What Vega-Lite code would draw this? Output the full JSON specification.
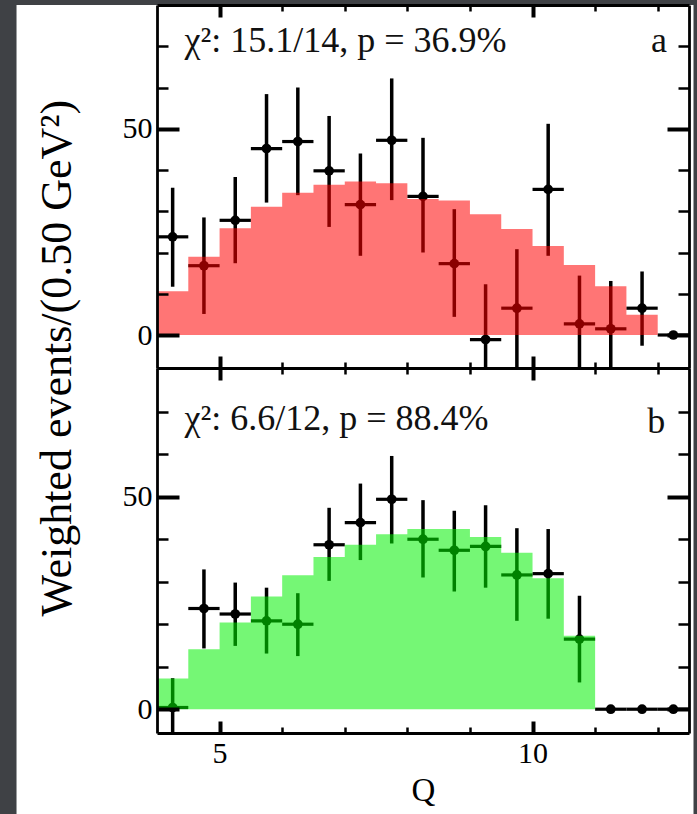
{
  "$schema": "https://vega.github.io/schema/vega-lite/v6.json",
  "background": "#3f4145",
  "padding": {"left": 16, "top": 3, "right": 4, "bottom": 0},
  "bounds": "flush",
  "spacing": 0,
  "datasets": {
    "panel_a": [
      {"q": 4.25, "q_lo": 4.0, "q_hi": 4.5, "w": 23.8, "w_lo": 11.7, "w_hi": 35.7, "model": 10.6},
      {"q": 4.75, "q_lo": 4.5, "q_hi": 5.0, "w": 16.8, "w_lo": 5.1, "w_hi": 28.5, "model": 19.0},
      {"q": 5.25, "q_lo": 5.0, "q_hi": 5.5, "w": 27.8, "w_lo": 17.4, "w_hi": 38.3, "model": 25.9},
      {"q": 5.75, "q_lo": 5.5, "q_hi": 6.0, "w": 45.2, "w_lo": 32.1, "w_hi": 58.4, "model": 31.1},
      {"q": 6.25, "q_lo": 6.0, "q_hi": 6.5, "w": 46.9, "w_lo": 33.9, "w_hi": 60.0, "model": 34.5},
      {"q": 6.75, "q_lo": 6.5, "q_hi": 7.0, "w": 39.8, "w_lo": 26.2, "w_hi": 53.1, "model": 36.4},
      {"q": 7.25, "q_lo": 7.0, "q_hi": 7.5, "w": 31.6, "w_lo": 19.2, "w_hi": 44.0, "model": 37.2},
      {"q": 7.75, "q_lo": 7.5, "q_hi": 8.0, "w": 47.2, "w_lo": 32.7, "w_hi": 62.2, "model": 36.8},
      {"q": 8.25, "q_lo": 8.0, "q_hi": 8.5, "w": 33.6, "w_lo": 20.0, "w_hi": 47.8, "model": 33.0},
      {"q": 8.75, "q_lo": 8.5, "q_hi": 9.0, "w": 17.3, "w_lo": 4.4, "w_hi": 30.5, "model": 32.6},
      {"q": 9.25, "q_lo": 9.0, "q_hi": 9.5, "w": -1.1, "w_lo": -14.5, "w_hi": 12.3, "model": 29.3},
      {"q": 9.75, "q_lo": 9.5, "q_hi": 10.0, "w": 6.5, "w_lo": -8.5, "w_hi": 20.8, "model": 25.7},
      {"q": 10.25, "q_lo": 10.0, "q_hi": 10.5, "w": 35.3, "w_lo": 19.2, "w_hi": 51.2, "model": 21.6},
      {"q": 10.75, "q_lo": 10.5, "q_hi": 11.0, "w": 2.7, "w_lo": -9.0, "w_hi": 14.4, "model": 17.0},
      {"q": 11.25, "q_lo": 11.0, "q_hi": 11.5, "w": 1.5, "w_lo": -10.1, "w_hi": 13.1, "model": 11.8},
      {"q": 11.75, "q_lo": 11.5, "q_hi": 12.0, "w": 6.5, "w_lo": -2.6, "w_hi": 15.4, "model": 4.9},
      {"q": 12.25, "q_lo": 12.0, "q_hi": 12.5, "w": 0.0, "w_lo": 0.0, "w_hi": 0.0, "model": 0.0}
    ],
    "panel_b": [
      {"q": 4.25, "q_lo": 4.0, "q_hi": 4.5, "w": 0.4, "w_lo": -6.6, "w_hi": 7.3, "model": 7.2},
      {"q": 4.75, "q_lo": 4.5, "q_hi": 5.0, "w": 23.7, "w_lo": 14.3, "w_hi": 32.9, "model": 14.1},
      {"q": 5.25, "q_lo": 5.0, "q_hi": 5.5, "w": 22.4, "w_lo": 14.9, "w_hi": 29.8, "model": 20.4},
      {"q": 5.75, "q_lo": 5.5, "q_hi": 6.0, "w": 20.8, "w_lo": 13.1, "w_hi": 28.6, "model": 26.5},
      {"q": 6.25, "q_lo": 6.0, "q_hi": 6.5, "w": 20.0, "w_lo": 12.5, "w_hi": 27.3, "model": 31.5},
      {"q": 6.75, "q_lo": 6.5, "q_hi": 7.0, "w": 38.7, "w_lo": 30.2, "w_hi": 47.4, "model": 35.8},
      {"q": 7.25, "q_lo": 7.0, "q_hi": 7.5, "w": 43.9, "w_lo": 35.1, "w_hi": 53.1, "model": 38.7},
      {"q": 7.75, "q_lo": 7.5, "q_hi": 8.0, "w": 49.4, "w_lo": 39.0, "w_hi": 59.6, "model": 41.2},
      {"q": 8.25, "q_lo": 8.0, "q_hi": 8.5, "w": 40.0, "w_lo": 31.0, "w_hi": 49.2, "model": 42.4},
      {"q": 8.75, "q_lo": 8.5, "q_hi": 9.0, "w": 37.4, "w_lo": 27.7, "w_hi": 46.7, "model": 42.4},
      {"q": 9.25, "q_lo": 9.0, "q_hi": 9.5, "w": 38.3, "w_lo": 28.6, "w_hi": 48.0, "model": 40.5},
      {"q": 9.75, "q_lo": 9.5, "q_hi": 10.0, "w": 31.6, "w_lo": 20.8, "w_hi": 42.6, "model": 36.8},
      {"q": 10.25, "q_lo": 10.0, "q_hi": 10.5, "w": 31.9, "w_lo": 21.3, "w_hi": 42.4, "model": 30.8},
      {"q": 10.75, "q_lo": 10.5, "q_hi": 11.0, "w": 16.5, "w_lo": 6.3, "w_hi": 26.7, "model": 17.3},
      {"q": 11.25, "q_lo": 11.0, "q_hi": 11.5, "w": 0.0, "w_lo": 0.0, "w_hi": 0.0, "model": 0.0},
      {"q": 11.75, "q_lo": 11.5, "q_hi": 12.0, "w": 0.0, "w_lo": 0.0, "w_hi": 0.0, "model": 0.0},
      {"q": 12.25, "q_lo": 12.0, "q_hi": 12.5, "w": 0.0, "w_lo": 0.0, "w_hi": 0.0, "model": 0.0}
    ]
  },
  "config": {
    "view": {"stroke": null},
    "font": "Liberation Serif",
    "axis": {
      "grid": false,
      "domainColor": "#000000",
      "domainWidth": 2.8,
      "tickColor": "#000000",
      "labelColor": "#000000",
      "labelFont": "Liberation Serif",
      "labelFontSize": 30,
      "titleFont": "Liberation Serif",
      "titleFontWeight": "normal",
      "titleColor": "#000000"
    }
  },
  "vconcat": [
    {
      "width": 532,
      "height": 363,
      "data": {"name": "panel_a"},
      "resolve": {"axis": {"x": "independent", "y": "independent"}},
      "layer": [
        {
          "data": {"values": [{}]},
          "mark": {"type": "rect", "color": "#ffffff"},
          "encoding": {
            "x": {"datum": 1.7556, "type": "quantitative", "scale": {"domain": [4, 12.5], "nice": false, "zero": false}, "axis": null},
            "x2": {"datum": 12.572},
            "y": {"datum": 80, "type": "quantitative", "scale": {"domain": [-8, 80], "nice": false, "zero": false}, "axis": null},
            "y2": {"datum": -116.3}
          }
        },
        {
          "mark": {"type": "rule", "color": "#000000", "strokeWidth": 3.5, "clip": true},
          "encoding": {
            "x": {"field": "q", "type": "quantitative", "scale": {"domain": [4, 12.5], "nice": false, "zero": false},
              "axis": {"orient": "bottom", "zindex": 1, "values": [5, 6, 7, 8, 9, 10, 11, 12], "labels": false, "title": null,
                "tickSize": {"condition": {"test": "datum.value % 5 === 0", "value": -12}, "value": -6},
                "tickWidth": {"condition": {"test": "datum.value % 5 === 0", "value": 4}, "value": 2.5}}},
            "y": {"field": "w_lo", "type": "quantitative", "scale": {"domain": [-8, 80], "nice": false, "zero": false},
              "axis": {"orient": "left", "zindex": 1, "values": [0, 10, 20, 30, 40, 50, 60, 70],
                "labelExpr": "datum.value % 50 === 0 ? datum.label : ''",
                "labelPadding": 27,
                "tickSize": {"condition": {"test": "datum.value % 50 === 0", "value": -22}, "value": -11},
                "tickWidth": {"condition": {"test": "datum.value % 50 === 0", "value": 4}, "value": 2.5},
                "title": "Weighted events/(0.50 GeV²)",
                "titleFontSize": 44,
                "titleAngle": -90,
                "titleAlign": "center",
                "titleBaseline": "alphabetic",
                "titleX": -86.5,
                "titleY": 352.75}},
            "y2": {"field": "w_hi"}
          }
        },
        {
          "mark": {"type": "rule", "color": "#000000", "strokeWidth": 3.2, "clip": true},
          "encoding": {
            "x": {"field": "q_lo", "type": "quantitative", "axis": null},
            "x2": {"field": "q_hi"},
            "y": {"field": "w", "type": "quantitative", "axis": null}
          }
        },
        {
          "mark": {"type": "circle", "color": "#000000", "opacity": 1, "size": 95},
          "encoding": {
            "x": {"field": "q", "type": "quantitative", "axis": null},
            "y": {"field": "w", "type": "quantitative", "axis": null}
          }
        },
        {
          "mark": {"type": "area", "interpolate": "step-after", "color": "#ff0000", "opacity": 0.54},
          "encoding": {
            "x": {"field": "q_lo", "type": "quantitative",
              "axis": {"orient": "top", "zindex": 1, "values": [5, 6, 7, 8, 9, 10, 11, 12], "labels": false, "title": null,
                "tickSize": {"condition": {"test": "datum.value % 5 === 0", "value": -12}, "value": -6},
                "tickWidth": {"condition": {"test": "datum.value % 5 === 0", "value": 4}, "value": 2.5}}},
            "y": {"field": "model", "type": "quantitative",
              "axis": {"orient": "right", "zindex": 1, "values": [0, 10, 20, 30, 40, 50, 60, 70], "labels": false, "title": null,
                "tickSize": {"condition": {"test": "datum.value % 50 === 0", "value": -22}, "value": -11},
                "tickWidth": {"condition": {"test": "datum.value % 50 === 0", "value": 4}, "value": 2.5}}},
            "y2": {"datum": 0}
          }
        },
        {
          "data": {"values": [{}]},
          "mark": {"type": "text", "text": "χ²: 15.1/14, p = 36.9%", "align": "left", "baseline": "alphabetic", "font": "Liberation Serif", "fontSize": 36, "color": "#111111"},
          "encoding": {
            "x": {"datum": 4.44, "type": "quantitative", "axis": null},
            "y": {"datum": 68.7, "type": "quantitative", "axis": null}
          }
        },
        {
          "data": {"values": [{}]},
          "mark": {"type": "text", "text": "a", "align": "right", "baseline": "alphabetic", "font": "Liberation Serif", "fontSize": 36, "color": "#111111"},
          "encoding": {
            "x": {"datum": 12.15, "type": "quantitative", "axis": null},
            "y": {"datum": 68.6, "type": "quantitative", "axis": null}
          }
        }
      ]
    },
    {
      "width": 532,
      "height": 365,
      "data": {"name": "panel_b"},
      "resolve": {"axis": {"x": "independent", "y": "independent"}},
      "layer": [
        {
          "mark": {"type": "rule", "color": "#000000", "strokeWidth": 3.5, "clip": true},
          "encoding": {
            "x": {"field": "q", "type": "quantitative", "scale": {"domain": [4, 12.5], "nice": false, "zero": false},
              "axis": {"orient": "bottom", "zindex": 1, "values": [5, 6, 7, 8, 9, 10, 11, 12],
                "labelExpr": "datum.value % 5 === 0 ? datum.label : ''",
                "labelPadding": 17,
                "tickSize": {"condition": {"test": "datum.value % 5 === 0", "value": -12}, "value": -6},
                "tickWidth": {"condition": {"test": "datum.value % 5 === 0", "value": 4}, "value": 2.5},
                "title": "Q",
                "titleFontSize": 33,
                "titleBaseline": "alphabetic",
                "titleY": 67}},
            "y": {"field": "w_lo", "type": "quantitative", "scale": {"domain": [-5.6, 80.3], "nice": false, "zero": false},
              "axis": {"orient": "left", "zindex": 1, "values": [0, 10, 20, 30, 40, 50, 60, 70],
                "labelExpr": "datum.value % 50 === 0 ? datum.label : ''",
                "labelPadding": 27,
                "tickSize": {"condition": {"test": "datum.value % 50 === 0", "value": -22}, "value": -11},
                "tickWidth": {"condition": {"test": "datum.value % 50 === 0", "value": 4}, "value": 2.5},
                "title": null}},
            "y2": {"field": "w_hi"}
          }
        },
        {
          "mark": {"type": "rule", "color": "#000000", "strokeWidth": 3.2, "clip": true},
          "encoding": {
            "x": {"field": "q_lo", "type": "quantitative", "axis": null},
            "x2": {"field": "q_hi"},
            "y": {"field": "w", "type": "quantitative", "axis": null}
          }
        },
        {
          "mark": {"type": "circle", "color": "#000000", "opacity": 1, "size": 95},
          "encoding": {
            "x": {"field": "q", "type": "quantitative", "axis": null},
            "y": {"field": "w", "type": "quantitative", "axis": null}
          }
        },
        {
          "mark": {"type": "area", "interpolate": "step-after", "color": "#00f000", "opacity": 0.54},
          "encoding": {
            "x": {"field": "q_lo", "type": "quantitative",
              "axis": {"orient": "top", "zindex": 1, "values": [5, 6, 7, 8, 9, 10, 11, 12], "labels": false, "title": null,
                "tickSize": {"condition": {"test": "datum.value % 5 === 0", "value": -12}, "value": -6},
                "tickWidth": {"condition": {"test": "datum.value % 5 === 0", "value": 4}, "value": 2.5}}},
            "y": {"field": "model", "type": "quantitative",
              "axis": {"orient": "right", "zindex": 1, "values": [0, 10, 20, 30, 40, 50, 60, 70], "labels": false, "title": null,
                "tickSize": {"condition": {"test": "datum.value % 50 === 0", "value": -22}, "value": -11},
                "tickWidth": {"condition": {"test": "datum.value % 50 === 0", "value": 4}, "value": 2.5}}},
            "y2": {"datum": 0}
          }
        },
        {
          "data": {"values": [{}]},
          "mark": {"type": "text", "text": "χ²: 6.6/12, p = 88.4%", "align": "left", "baseline": "alphabetic", "font": "Liberation Serif", "fontSize": 36, "color": "#111111"},
          "encoding": {
            "x": {"datum": 4.44, "type": "quantitative", "axis": null},
            "y": {"datum": 65.8, "type": "quantitative", "axis": null}
          }
        },
        {
          "data": {"values": [{}]},
          "mark": {"type": "text", "text": "b", "align": "right", "baseline": "alphabetic", "font": "Liberation Serif", "fontSize": 36, "color": "#111111"},
          "encoding": {
            "x": {"datum": 12.12, "type": "quantitative", "axis": null},
            "y": {"datum": 65.1, "type": "quantitative", "axis": null}
          }
        }
      ]
    }
  ]
}
